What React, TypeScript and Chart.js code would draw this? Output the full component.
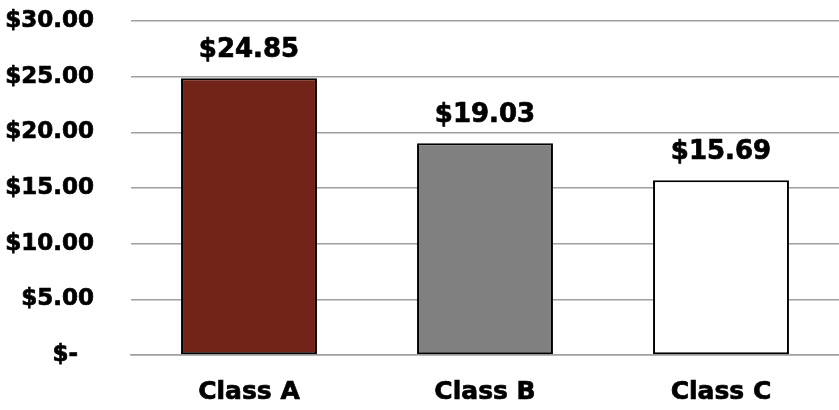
import React, { useEffect, useRef } from "react";
import { Chart, registerables } from "chart.js";

Chart.register(...registerables);

const categories = ["Class A", "Class B", "Class C"];
const values = [24.85, 19.03, 15.69];
const barColors = ["#722419", "#808080", "#ffffff"];
const yTickLabels: Record<number, string> = {
  0: "$-  ",
  5: "$5.00",
  10: "$10.00",
  15: "$15.00",
  20: "$20.00",
  25: "$25.00",
  30: "$30.00",
};

const FONT = "'DejaVu Sans', sans-serif";
const STROKE = 0.7;

const valueLabelPlugin = {
  id: "valueLabels",
  afterDatasetsDraw(chart: any) {
    const ctx = chart.ctx;
    const meta = chart.getDatasetMeta(0);
    ctx.save();
    ctx.font = `bold 26px ${FONT}`;
    ctx.fillStyle = "#000";
    ctx.strokeStyle = "#000";
    ctx.lineWidth = STROKE;
    ctx.textAlign = "center";
    ctx.textBaseline = "alphabetic";
    meta.data.forEach((bar: any, i: number) => {
      const t = "$" + values[i].toFixed(2);
      ctx.fillText(t, bar.x, bar.y - 21);
      ctx.strokeText(t, bar.x, bar.y - 21);
    });
    ctx.restore();
  },
};

export default function App() {
  const ref = useRef<HTMLCanvasElement>(null);
  useEffect(() => {
    if (!ref.current) return;
    const chart = new Chart(ref.current, {
      type: "bar",
      data: {
        labels: categories,
        datasets: [
          {
            data: values,
            backgroundColor: barColors,
            borderColor: "#000",
            borderWidth: 2,
            borderSkipped: false,
            categoryPercentage: 1,
            barPercentage: 0.576,
          },
        ],
      },
      options: {
        animation: false,
        responsive: false,
        maintainAspectRatio: false,
        layout: { padding: { top: 21, right: 0, left: 0, bottom: 0 } },
        plugins: { legend: { display: false }, tooltip: { enabled: false } },
        scales: {
          x: {
            grid: { display: false, drawTicks: true, tickLength: 22, tickColor: "rgba(0,0,0,0)" },
            border: { display: true, color: "#a0a0a0", width: 1.5 },
            ticks: {
              color: "#000",
              font: { family: FONT, size: 25, weight: "bold" },
              padding: 0,
              textStrokeColor: "#000",
              textStrokeWidth: STROKE,
            },
            afterFit(scale: any) {
              scale.height = 55;
            },
          },
          y: {
            min: 0,
            max: 30,
            grid: { color: "#a0a0a0", lineWidth: 1.5, drawTicks: true, tickLength: 37, tickColor: "rgba(0,0,0,0)" },
            border: { display: false },
            ticks: {
              stepSize: 5,
              color: "#000",
              font: { family: FONT, size: 23, weight: "bold" },
              padding: 0,
              textStrokeColor: "#000",
              textStrokeWidth: STROKE,
              callback: (v: any) => yTickLabels[v as number] ?? "",
            },
            afterFit(scale: any) {
              scale.width = 131;
            },
          },
        },
      },
      plugins: [valueLabelPlugin],
    });
    return () => chart.destroy();
  }, []);
  return (
    <div style={{ position: "fixed", left: 0, top: 0, width: 839, height: 410, background: "#fff" }}>
      <canvas ref={ref} width={839} height={410} />
    </div>
  );
}
